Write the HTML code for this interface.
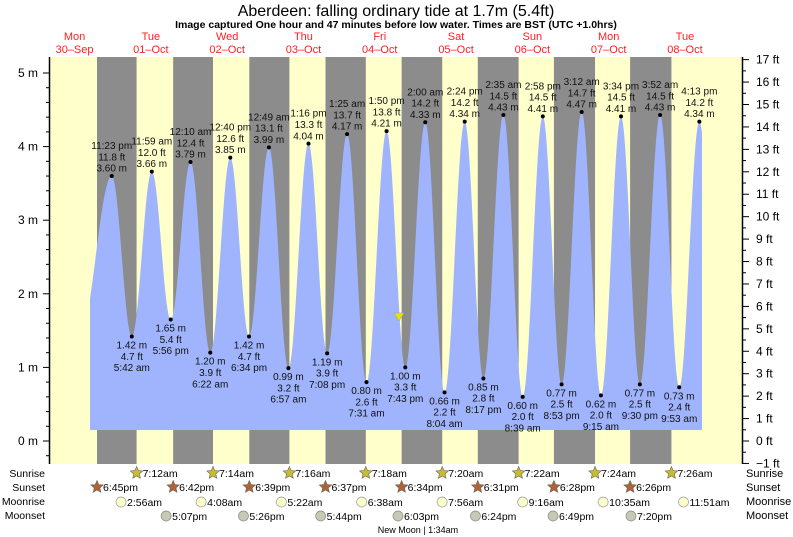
<!DOCTYPE html>
<html><head><meta charset="utf-8"><style>
body{margin:0;background:#fff;}
svg{display:block;font-family:"Liberation Sans",sans-serif;}
</style></head><body>
<svg id="s" width="793" height="537" viewBox="0 0 793 537" xmlns="http://www.w3.org/2000/svg">
<text x="396" y="16" font-size="16" text-anchor="middle">Aberdeen: falling  ordinary tide at 1.7m (5.4ft)</text>
<text x="396" y="28" font-size="10.5" font-weight="bold" text-anchor="middle">Image captured One hour and 47 minutes before low water. Times are BST (UTC +1.0hrs)</text>
<g id="g"></g>
</svg>
<script>
var NS="http://www.w3.org/2000/svg",g=document.getElementById('g');
function el(t,a,txt){var e=document.createElementNS(NS,t);for(var k in a)e.setAttribute(k,a[k]);if(txt!=null)e.textContent=txt;g.appendChild(e);return e;}
var X0=37.4,DW=76.3;function X(d,h,m){return X0+DW*(d+(h+m/60)/24);}
function Y(m){return 441-m*73.6;}
function t2h(s){var p=s.match(/(\d+):(\d+)(am|pm)/);var h=+p[1]%12;if(p[3]=='pm')h+=12;return [h,+p[2]];}
el('rect',{x:49,y:57,width:693,height:407,fill:'#ffffcc'});
var sunsets=['6:45pm','6:42pm','6:39pm','6:37pm','6:34pm','6:31pm','6:28pm','6:26pm'];
var sunrises=['7:12am','7:14am','7:16am','7:18am','7:20am','7:22am','7:24am','7:26am'];
for(var i=0;i<8;i++){var a=t2h(sunsets[i]),b=t2h(sunrises[i]);var x1=X(i,a[0],a[1]),x2=X(i+1,b[0],b[1]);el('rect',{x:x1,y:57,width:x2-x1,height:407,fill:'#8c8c8c'});}
var ev=[[0,'3:50pm',1.45,0],[0,'11:23pm',3.60,1],[1,'5:42am',1.42,0],[1,'11:59am',3.66,1],[1,'5:56pm',1.65,0],[2,'12:10am',3.79,1],[2,'6:22am',1.20,0],[2,'12:40pm',3.85,1],[2,'6:34pm',1.42,0],[3,'12:49am',3.99,1],[3,'6:57am',0.99,0],[3,'1:16pm',4.04,1],[3,'7:08pm',1.19,0],[4,'1:25am',4.17,1],[4,'7:31am',0.80,0],[4,'1:50pm',4.21,1],[4,'7:43pm',1.00,0],[5,'2:00am',4.33,1],[5,'8:04am',0.66,0],[5,'2:24pm',4.34,1],[5,'8:17pm',0.85,0],[6,'2:35am',4.43,1],[6,'8:39am',0.60,0],[6,'2:58pm',4.41,1],[6,'8:53pm',0.77,0],[7,'3:12am',4.47,1],[7,'9:15am',0.62,0],[7,'3:34pm',4.41,1],[7,'9:30pm',0.77,0],[8,'3:52am',4.43,1],[8,'9:53am',0.73,0],[8,'4:13pm',4.34,1],[8,'10:15pm',0.90,0]];
ev.forEach(function(e){var t=t2h(e[1]);e.push(X(e[0],t[0],t[1]));});
ev[0][4]=80;
var d='M90,430';
for(var x=90;x<=702;x+=0.5){var j=0;while(ev[j+1][4]<x)j++;var A=ev[j],B=ev[j+1];var f=(x-A[4])/(B[4]-A[4]);var h=A[2]+(B[2]-A[2])*(1-Math.cos(Math.PI*f))/2;d+=' L'+x+','+Y(h).toFixed(1);}
d+=' L702,430 Z';el('path',{d:d,fill:'#9fb4fc'});
function ft(m){return (m/0.3048).toFixed(1);}
ev.slice(1,-1).forEach(function(e){var x=e[4],y=Y(e[2]);el('circle',{cx:x,cy:y,r:2,fill:'#000'});
var lines=e[3]?[e[1].replace(/(am|pm)/,' $1'),ft(e[2])+' ft',e[2].toFixed(2)+' m']:[e[2].toFixed(2)+' m',ft(e[2])+' ft',e[1].replace(/(am|pm)/,' $1')];
var y0=e[3]?y-27:y+12;lines.forEach(function(l,k){el('text',{x:x,y:y0+k*11.3,'font-size':10,'text-anchor':'middle',fill:'#111'},l);});});
el('polygon',{points:'394,313 404,313 399,321',fill:'#e6e600',stroke:'#999','stroke-width':0.5});
var days=[['Mon','30-Sep'],['Tue','01-Oct'],['Wed','02-Oct'],['Thu','03-Oct'],['Fri','04-Oct'],['Sat','05-Oct'],['Sun','06-Oct'],['Mon','07-Oct'],['Tue','08-Oct']];
days.forEach(function(dd,i){var x=X(i,12,0)-1;el('text',{x:x,y:40,'font-size':11,fill:'#ff2020','text-anchor':'middle'},dd[0]);el('text',{x:x,y:53,'font-size':11,fill:'#ff2020','text-anchor':'middle'},dd[1].replace('-','\u2013'));});
el('line',{x1:49.5,y1:57,x2:49.5,y2:464,stroke:'#000','stroke-width':1.5});
el('line',{x1:742.5,y1:57,x2:742.5,y2:464,stroke:'#000','stroke-width':1.5});
for(var m=-0.4;m<=5.2;m+=0.2){var y=Y(m);if(y<57||y>464)continue;var maj=Math.abs(m-Math.round(m))<0.01;el('line',{x1:maj?43:46,y1:y,x2:49,y2:y,stroke:'#000'});if(maj)el('text',{x:38,y:y+4,'font-size':12,'text-anchor':'end'},Math.round(m)+' m');}
for(var f=-1;f<=17;f+=0.5){var y=441-f*0.3048*73.6;var maj=f%1==0;el('line',{x1:743,y1:y,x2:maj?749:746,y2:y,stroke:'#000'});if(maj)el('text',{x:756,y:y+4,'font-size':12},(f<0?'\u22121':f)+' ft');}
var rows=[['Sunrise',477],['Sunset',491],['Moonrise',505],['Moonset',519]];
rows.forEach(function(r){el('text',{x:45,y:r[1],'font-size':10.5,'text-anchor':'end'},r[0]);el('text',{x:746,y:r[1],'font-size':11},r[0]);});
function star(x,y,c){var p=[];for(var k=0;k<10;k++){var a=-Math.PI/2+k*Math.PI/5,rr=k%2?3:6.5;p.push((x+rr*Math.cos(a)).toFixed(1)+','+(y+rr*Math.sin(a)).toFixed(1));}el('polygon',{points:p.join(' '),fill:c,stroke:'#665','stroke-width':0.6});}
for(var i=0;i<8;i++){var a=t2h(sunrises[i]),x=X(i+1,a[0],a[1]);star(x,473,'#c8bc30');el('text',{x:x+6,y:477,'font-size':10.5},sunrises[i]);
a=t2h(sunsets[i]);x=X(i,a[0],a[1]);star(x,487,'#b0623a');el('text',{x:x+6,y:491,'font-size':10.5},sunsets[i]);}
var mr=['2:56am','4:08am','5:22am','6:38am','7:56am','9:16am','10:35am','11:51am'];
var ms=['5:07pm','5:26pm','5:44pm','6:03pm','6:24pm','6:49pm','7:20pm'];
mr.forEach(function(t,i){var a=t2h(t),x=X(i+1,a[0],a[1])-2;el('circle',{cx:x,cy:502,r:5,fill:'#ffffcc',stroke:'#999','stroke-width':0.7});el('text',{x:x+6,y:506,'font-size':10.5},t);});
ms.forEach(function(t,i){var a=t2h(t),x=X(i+1,a[0],a[1])-2;el('circle',{cx:x,cy:516,r:5,fill:'#c8c8b4',stroke:'#888','stroke-width':0.7});el('text',{x:x+6,y:520,'font-size':10.5},t);});
el('text',{x:418,y:533,'font-size':9,'text-anchor':'middle'},'New Moon | 1:34am');
</script>
</body></html>
